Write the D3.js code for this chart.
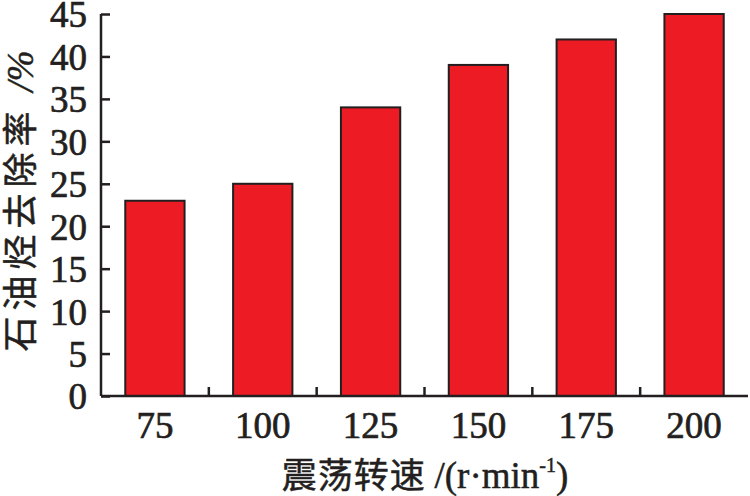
<!DOCTYPE html>
<html lang="zh">
<head>
    <meta charset="UTF-8">
    <title>石油烃去除率</title>
    <script src="https://d3js.org/d3.v7.min.js"></script>
    <style>
        body { margin: 0; background: #fff; }
    </style>
</head>
<body>
    <svg width="750" height="496"></svg>

    <script>
        // Data
        const speeds = ["75", "100", "125", "150", "175", "200"];
        const removal = [23, 25, 34, 39, 42, 45];
        const yTicks = [0, 5, 10, 15, 20, 25, 30, 35, 40, 45];

        const width = 750;
        const height = 496;
        const margin = {top: 14, right: 2, bottom: 100, left: 101};

        const svg = d3.select("svg");

        // Scales
        const x = d3.scaleBand()
            .domain(speeds)
            .range([margin.left, width - margin.right])
            .paddingInner(0.45)
            .paddingOuter(0.225);

        const y = d3.scaleLinear()
            .domain([0, 45])
            .range([height - margin.bottom, margin.top]);

        const serif = "'Liberation Serif', 'Times New Roman', serif";
        const cjk = "'Noto Sans CJK SC', 'Liberation Serif', serif";
        const ink = "#231F20";

        // Bars
        svg.selectAll(".bar")
            .data(speeds)
            .enter()
            .append("rect")
            .attr("class", "bar")
            .attr("x", d => x(d))
            .attr("y", (d, i) => y(removal[i]))
            .attr("width", x.bandwidth())
            .attr("height", (d, i) => y(0) - y(removal[i]))
            .style("fill", "#ED1C24")
            .style("stroke", ink)
            .style("stroke-width", 2);

        // Y axis (ticks pointing inward)
        const yAxis = svg.append("g")
            .attr("transform", `translate(${margin.left},0)`)
            .call(d3.axisRight(y).tickValues(yTicks).tickSize(9).tickPadding(0).tickFormat(d3.format("d")));
        yAxis.select(".domain").attr("d", `M0,${y(45)}V${y(0)}`).attr("stroke", ink).attr("stroke-width", 2.5);
        yAxis.selectAll(".tick line").attr("stroke", ink).attr("stroke-width", 2.5);
        yAxis.selectAll(".tick text")
            .attr("x", -14)
            .attr("text-anchor", "end")
            .attr("dy", "0.35em")
            .style("font-family", serif)
            .style("font-size", "37px")
            .style("fill", ink)
            .style("stroke", ink)
            .style("stroke-width", 0.7);

        // X axis: category boundaries get short inward ticks
        const xAxis = svg.append("g")
            .attr("transform", `translate(0,${y(0)})`);
        xAxis.append("line")
            .attr("x1", margin.left).attr("x2", width - margin.right)
            .attr("y1", 0).attr("y2", 0)
            .attr("stroke", ink).attr("stroke-width", 2.5);
        const step = x.step();
        xAxis.selectAll(".xtick")
            .data(speeds.slice(1))
            .enter()
            .append("line")
            .attr("class", "xtick")
            .attr("x1", d => x(d) - step * x.paddingInner() / 2)
            .attr("x2", d => x(d) - step * x.paddingInner() / 2)
            .attr("y1", 0).attr("y2", -9)
            .attr("stroke", ink).attr("stroke-width", 2.5);
        xAxis.selectAll(".xlabel")
            .data(speeds)
            .enter()
            .append("text")
            .attr("class", "xlabel")
            .attr("x", d => x(d) + x.bandwidth() / 2)
            .attr("y", 42)
            .attr("text-anchor", "middle")
            .style("font-family", serif)
            .style("font-size", "37px")
            .style("fill", ink)
            .style("stroke", ink)
            .style("stroke-width", 0.7);

        xAxis.selectAll(".xlabel").text(d => d);

        // X axis title
        const xTitle = svg.append("text")
            .attr("x", 425)
            .attr("y", 488)
            .attr("text-anchor", "middle")
            .style("font-size", "37px")
            .style("fill", ink)
            .style("stroke", ink)
            .style("stroke-width", 0.5);
        xTitle.append("tspan").style("font-family", cjk).style("font-size", "35px").style("letter-spacing", "1px").text("震荡转速 ");
        xTitle.append("tspan").style("font-family", serif).text("/(r·min");
        xTitle.append("tspan").style("font-family", serif).style("font-size", "20px").attr("dy", -16).text("-1");
        xTitle.append("tspan").style("font-family", serif).attr("dy", 16).text(")");

        // Y axis title
        const yTitle = svg.append("text")
            .attr("transform", "translate(33,201) rotate(-90)")
            .attr("text-anchor", "middle")
            .style("font-size", "35px")
            .style("fill", ink)
            .style("stroke", ink)
            .style("stroke-width", 0.5);
        yTitle.append("tspan").style("font-family", cjk).style("letter-spacing", "6px").text("石油烃去除率 ");
        yTitle.append("tspan").style("font-family", serif).style("font-style", "italic").style("font-size", "37px").text("/%");
    </script>
</body>
</html>
